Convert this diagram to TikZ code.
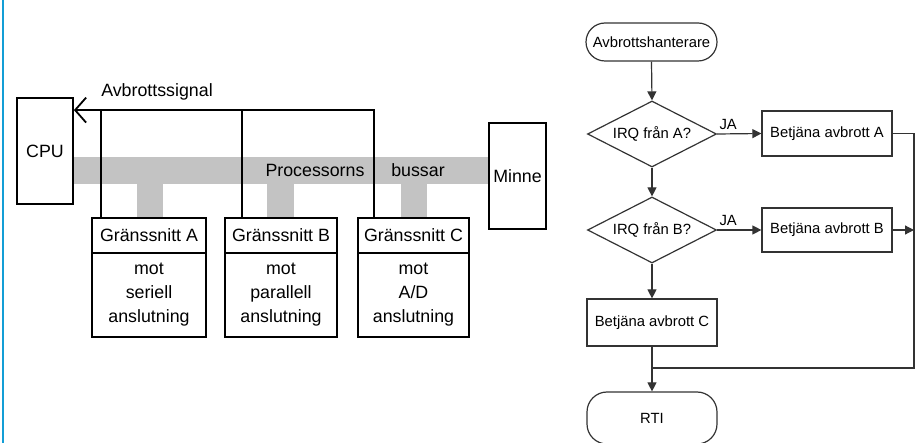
\documentclass[tikz,border=0pt]{standalone}
\usepackage{fontspec}
\setmainfont{Liberation Sans}
\usetikzlibrary{arrows.meta,shapes.geometric,calc}
\definecolor{busgray}{HTML}{C3C3C3}
\definecolor{flowgray}{HTML}{333333}
\definecolor{edgeblue}{HTML}{139ED6}
\tikzset{
  big/.style={font=\fontsize{17.8}{24}\selectfont},
  small/.style={font=\fontsize{14.8}{17}\selectfont},
  blk/.style={draw=black, line width=1.8pt, inner sep=0pt, big},
  sig/.style={draw=black, line width=1.8pt},
  bus/.style={fill=busgray},
  fbox/.style={draw=flowgray, line width=1.2pt, inner sep=0pt, small, minimum width=130pt},
  term/.style={fbox, rounded corners=19pt, minimum width=131pt},
  dec/.style={fbox, diamond, aspect=1.95, minimum width=129pt, minimum height=66pt},
  fl/.style={draw=flowgray, line width=1.2pt},
  fla/.style={fl, -{Triangle[length=9pt,width=9pt]}},
  jalab/.style={small, text=black, inner sep=4pt}
}
\begin{document}
\begin{tikzpicture}[x=1pt,y=-1pt]
\useasboundingbox (0,0) rectangle (916,443);
\clip (0,0) rectangle (916,443);
% left border
\draw[edgeblue, line width=2pt] (3,0) -- (3,443);

% ---------- left diagram ----------
% bus
\fill[bus] (73,157) rectangle (489,184);
\fill[bus] (137,184) rectangle (163,218);
\fill[bus] (267,184) rectangle (294,218);
\fill[bus] (401,184) rectangle (427,218);
\node[big] (procl) at (315,170) {Processorns};
\node[big] (bussl) at (418,170) {bussar};

\node[blk, minimum width=56pt, minimum height=106pt] (cpu) at (45,151) {CPU};
\node[blk, minimum width=57pt, minimum height=106pt] (minne) at (517.5,176) {Minne};

\node[blk, minimum width=114pt, minimum height=35pt] (ha) at (149,235.5) {Gränssnitt A};
\node[blk, minimum width=114pt, minimum height=84pt, align=center] (ba2) at (149,295) {mot\\seriell\\anslutning};
\node[blk, minimum width=112pt, minimum height=35pt] (hb) at (281,235.5) {Gränssnitt B};
\node[blk, minimum width=112pt, minimum height=84pt, align=center] (bb2) at (281,295) {mot\\parallell\\anslutning};
\node[blk, minimum width=111pt, minimum height=35pt] (hc) at (413.5,235.5) {Gränssnitt C};
\node[blk, minimum width=111pt, minimum height=84pt, align=center] (bc2) at (413.5,295) {mot\\A/D\\anslutning};

\draw[sig, -{Straight Barb[length=11pt,width=25pt,line width=1.8pt]}]
  ([xshift=17pt]hc.north west) |- ([yshift=-13pt]cpu.north east);
\draw[sig] ([xshift=10pt]ha.north west) -- ++(0,-107);
\draw[sig] ([xshift=18pt]hb.north west) -- ++(0,-107);
\node[big] (avb) at (157,92) {Avbrottssignal};

% ---------- flowchart ----------
\node[term, minimum height=38pt] (start) at (651.5,42) {Avbrottshanterare};
\node[dec] (da) at (652,134) {IRQ från A?};
\node[fbox, minimum height=45pt] (fa) at (827,133.5) {Betjäna avbrott A};
\node[dec] (db) at (652,230) {IRQ från B?};
\node[fbox, minimum height=44pt] (fb) at (827,230) {Betjäna avbrott B};
\node[fbox, minimum height=47pt] (fc) at (652,322.5) {Betjäna avbrott C};
\node[fbox, rounded corners=20pt, minimum width=130pt, minimum height=52pt] (rti) at (652,418) {RTI};

\coordinate (rc) at (914,368);
\coordinate (mc) at (652,368);

\draw[fla] (start.south) -- (da.north);
\draw[fla] (da.east) -- node[jalab, above, pos=0.25] {JA} (fa.west);
\draw[fla] (da.south) -- (db.north);
\draw[fla] (db.east) -- node[jalab, above, pos=0.25] {JA} (fb.west);
\draw[fla] (db.south) -- (fc.north);
\draw[fla] (fc.south) -- (rti.north);
\draw[fl] (fa.east) -| (rc) -- (mc);
\draw[fla] (fb.east) -- (fb.east -| rc);
\end{tikzpicture}
\end{document}
